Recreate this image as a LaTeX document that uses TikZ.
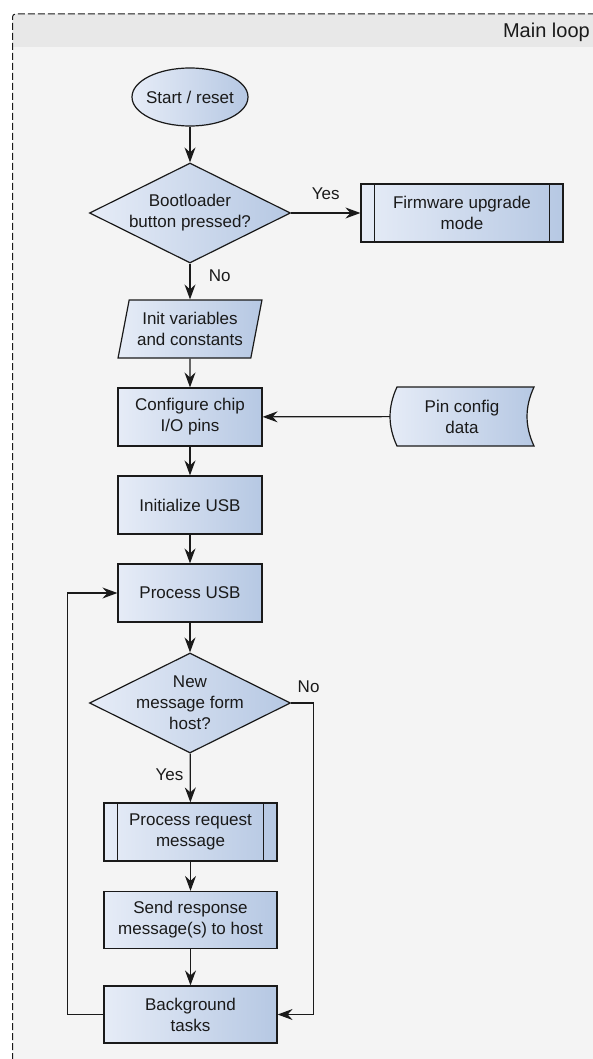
\documentclass[tikz,border=0pt]{standalone}
\usepackage{fontspec}
\setmainfont{Liberation Sans}
\usetikzlibrary{arrows.meta,shapes.geometric}
\definecolor{boxl}{HTML}{E6ECF7}
\definecolor{boxr}{HTML}{B6C8E3}
\definecolor{pane}{HTML}{F4F4F4}
\definecolor{band}{HTML}{E8E8E8}
\definecolor{ink}{HTML}{1A1A1A}

\begin{document}
\begin{tikzpicture}
			[x=1pt,y=-1pt,font=\fontsize{17}{21}\selectfont,text=ink,
			box/.style={draw=ink,line width=1.2pt,left color=boxl,right color=boxr,align=center,
				minimum width=144pt,minimum height=58pt,inner sep=2pt},
			wide/.style={box,minimum width=173pt,minimum height=57pt},
			dec/.style={box,diamond,aspect=2,minimum width=201pt,minimum height=100pt,inner sep=-4pt},
			term/.style={box,ellipse,minimum width=116pt,minimum height=58pt,inner sep=-4pt},
			io/.style={box,trapezium,trapezium left angle=75,trapezium right angle=105,
				trapezium stretches=true},
			edge/.style={draw=ink,line width=1.2pt,-{Stealth[length=15pt,width=11pt,inset=5pt]}}]
			% frame
			\useasboundingbox (0,0) rectangle (593,1059);
			\fill[white] (0,0) rectangle (593,1059);
			\clip (0,0) rectangle (593,1059);
			\fill[pane,rounded corners=3pt] (12.5,14) rectangle (640,1100);
			\fill[band] (12.5,47) [rounded corners=3pt] -- (12.5,14) -- (640,14) [sharp corners] -- (640,47) -- cycle;
			\draw[ink,line width=1pt,dash pattern=on 7pt off 3pt,rounded corners=3pt] (12.5,1100) -- (12.5,14) -- (640,14);
			\node[anchor=base east,inner sep=0pt,font=\fontsize{20}{24}\selectfont] (title) at (590,38) {Main loop};
			
			\node[term] (start) at (190,97) {Start / reset};
			\node[dec] (boot) at (190,213) {Bootloader\\button pressed?};
			\node[box,minimum width=202pt] (fw) at (462,213) {Firmware upgrade\\mode};
			\draw[ink,line width=1.2pt] ([xshift=14pt]fw.north west) -- ([xshift=14pt]fw.south west);
			\draw[ink,line width=1.2pt] ([xshift=-14pt]fw.north east) -- ([xshift=-14pt]fw.south east);
			\node[io] (init) at (190,329) {Init variables\\and constants};
			\node[box] (conf) at (190,417) {Configure chip\\I/O pins};
			\draw[ink,line width=1.2pt,left color=boxl,right color=boxr] (397,387) -- (534,387)
				.. controls (524.7,407) and (524.7,426) .. (534,446) -- (397,446)
				.. controls (387.7,426) and (387.7,407) .. (397,387) -- cycle;
			\node[align=center,minimum width=144pt,minimum height=59pt] (pin) at (462,416.5) {Pin config\\data};
			\node[box] (usbinit) at (190,505) {Initialize USB};
			\node[box] (usbproc) at (190,593) {Process USB};
			\node[dec] (newmsg) at (190,703) {New\\message form\\host?};
			\node[wide,minimum height=58pt] (req) at (190.5,832) {Process request\\message};
			\draw[ink,line width=1.2pt] ([xshift=14pt]req.north west) -- ([xshift=14pt]req.south west);
			\draw[ink,line width=1.2pt] ([xshift=-14pt]req.north east) -- ([xshift=-14pt]req.south east);
			\node[wide] (resp) at (190.5,920) {Send response\\message(s) to host};
			\node[wide] (bg) at (190.5,1014.5) {Background\\tasks};
			
			\draw[edge] (start) -- (boot);
			\draw[edge] (boot) -- node[above=9pt] {Yes} (fw);
			\draw[edge] (boot) -- node[right=15pt,pos=0.35] {No} (init);
			\draw[edge] (init) -- (conf);
			\draw[edge] (pin) -- (conf);
			\draw[edge] (conf) -- (usbinit);
			\draw[edge] (usbinit) -- (usbproc);
			\draw[edge] (usbproc) -- (newmsg);
			\draw[edge] (newmsg) -- node[left=3pt,pos=0.44] {Yes} (req);
			\draw[edge] (req) -- (resp);
			\draw[edge] (resp) -- (bg);
			\draw[edge] (newmsg.east) -- ++(22,0) node[above=6pt,xshift=-4.5pt] {No} |- (bg.east);
			\draw[edge] (bg.west) -- ++(-36,0) |- (usbproc.west);
			\end{tikzpicture}
\end{document}
